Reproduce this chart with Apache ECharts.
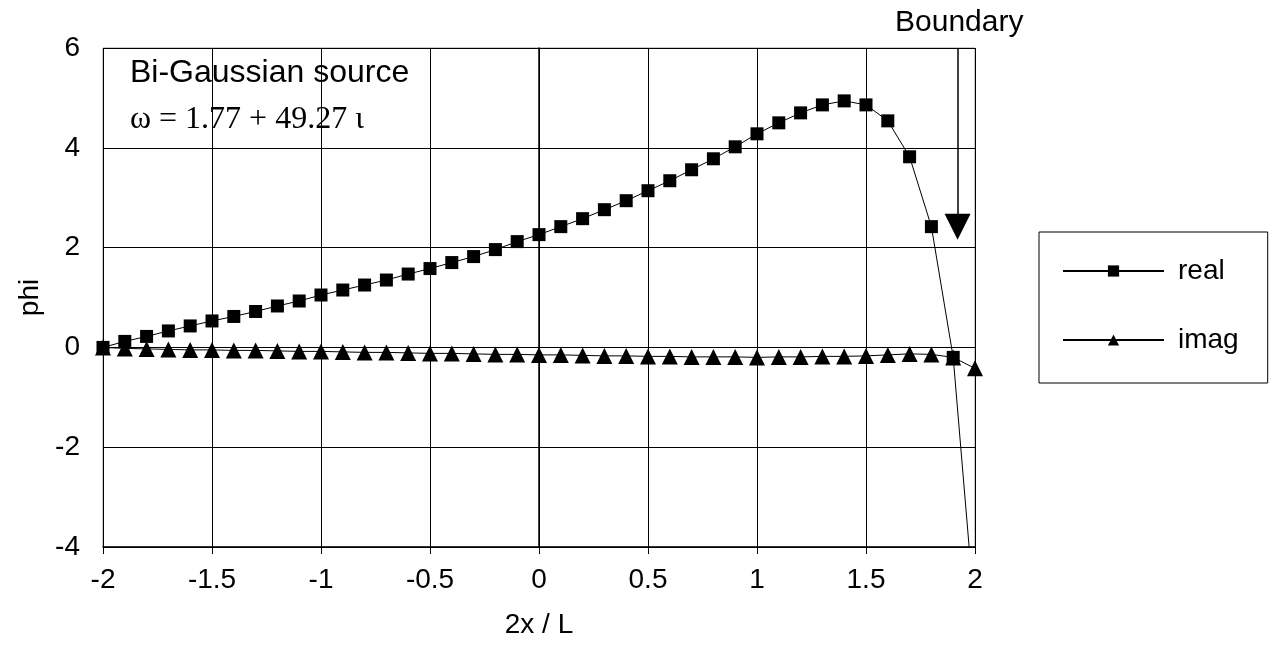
<!DOCTYPE html>
<html>
<head>
<meta charset="utf-8">
<script src="https://cdn.jsdelivr.net/npm/echarts@6/dist/echarts.min.js"></script>
<style>
  html, body { margin: 0; padding: 0; background: #fff; }
  #chart { width: 1273px; height: 666px; }
</style>
</head>
<body>
<div id="chart"></div>
<script>
// x positions 2x/L
const xs = [-2, -1.9, -1.8, -1.7, -1.6, -1.5, -1.4, -1.3, -1.2, -1.1, -1, -0.9, -0.8, -0.7, -0.6, -0.5, -0.4, -0.3, -0.2, -0.1,
  0, 0.1, 0.2, 0.3, 0.4, 0.5, 0.6, 0.7, 0.8, 0.9, 1, 1.1, 1.2, 1.3, 1.4, 1.5, 1.6, 1.7, 1.8, 1.9, 2]
const realVals = [0, 0.12, 0.22, 0.33, 0.43, 0.53, 0.62, 0.72, 0.83, 0.93, 1.05, 1.15, 1.25, 1.35, 1.47, 1.58, 1.7, 1.82, 1.96, 2.12,
  2.26, 2.42, 2.58, 2.76, 2.94, 3.14, 3.34, 3.56, 3.78, 4.02, 4.28, 4.5, 4.7, 4.86, 4.94, 4.86, 4.54, 3.82, 2.42, -0.2, -5.4]
const imagVals = [0, -0.02, -0.03, -0.04, -0.05, -0.05, -0.06, -0.06, -0.07, -0.08, -0.08, -0.09, -0.1, -0.1, -0.11, -0.12, -0.12, -0.13, -0.14, -0.14,
  -0.15, -0.15, -0.16, -0.17, -0.17, -0.18, -0.18, -0.19, -0.19, -0.19, -0.2, -0.19, -0.19, -0.18, -0.18, -0.17, -0.15, -0.13, -0.14, -0.2, -0.42]
// boundary arrow
const boundaryX = 1.92
const arrowFrom = 6
const arrowTo = 2.42

const font = 'Liberation Sans, Arial, sans-serif'
const pairs = vals => xs.map((x, i) => [x, vals[i]])

const chart = echarts.init(document.getElementById('chart'))
chart.setOption({
  animation: false,
  backgroundColor: '#fff',
  grid: {
    left: 103, right: 298, top: 48, bottom: 119,
    show: true, borderColor: '#999', borderWidth: 1
  },
  xAxis: {
    type: 'value', min: -2, max: 2, interval: 0.5,
    name: '2x / L', nameLocation: 'middle', nameGap: 64,
    nameTextStyle: { fontFamily: font, fontSize: 28, color: '#000' },
    axisLine: { onZero: false, lineStyle: { color: '#000', width: 1.5 } },
    axisTick: { show: true, length: 7, lineStyle: { color: '#000' } },
    axisLabel: { fontFamily: font, fontSize: 28, color: '#000', margin: 19 },
    splitLine: { show: true, lineStyle: { color: '#000', width: 1 } }
  },
  yAxis: {
    type: 'value', min: -4, max: 6, interval: 2,
    name: 'phi', nameLocation: 'middle', nameGap: 57, nameRotate: 90,
    nameTextStyle: { fontFamily: font, fontSize: 28, color: '#000' },
    axisLine: { show: true, lineStyle: { color: '#000', width: 1.5 } },
    axisTick: { show: true, length: 6, lineStyle: { color: '#000' } },
    axisLabel: { fontFamily: font, fontSize: 28, color: '#000', margin: 23 },
    splitLine: { show: true, lineStyle: { color: '#000', width: 1 } }
  },
  legend: {
    orient: 'vertical', left: 1039, top: 232,
    padding: [25, 29, 29, 23], itemGap: 41,
    borderColor: '#000', borderWidth: 1, backgroundColor: '#fff',
    itemWidth: 101, itemHeight: 14,
    textStyle: { fontFamily: font, fontSize: 28, color: '#000', padding: [0, 0, 0, 9] },
    data: ['real', 'imag']
  },
  graphic: [
    { type: 'text', left: 130, top: 57, style: { text: 'Bi-Gaussian source', font: '32px ' + font, fill: '#000' } },
    { type: 'text', left: 130, top: 104, style: { text: 'ω = 1.77 + 49.27 ι', font: '32px "Liberation Serif", "Times New Roman", serif', fill: '#000' } },
    { type: 'text', left: 895, top: 8, style: { text: 'Boundary', font: '30px ' + font, fill: '#000' } }
  ],
  series: [
    {
      name: 'real', type: 'line', data: pairs(realVals),
      symbol: 'rect', symbolSize: 13,
      lineStyle: { color: '#000', width: 1 },
      itemStyle: { color: '#000' },
      z: 3,
      markLine: {
        silent: true, symbol: ['none', 'triangle'], symbolSize: 26,
        lineStyle: { color: '#000', width: 1.5, type: 'solid' },
        label: { show: false },
        data: [[{ coord: [boundaryX, arrowFrom] }, { coord: [boundaryX, arrowTo] }]]
      }
    },
    {
      name: 'imag', type: 'line', data: pairs(imagVals),
      symbol: 'triangle', symbolSize: 16,
      lineStyle: { color: '#000', width: 1 },
      itemStyle: { color: '#000' },
      z: 2
    }
  ]
})
</script>
</body>
</html>
